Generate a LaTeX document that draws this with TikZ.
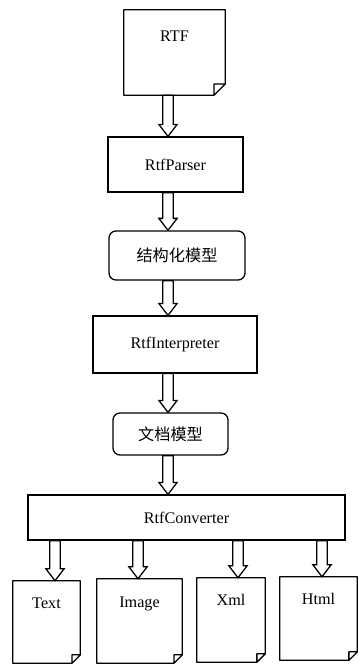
\documentclass[tikz,border=0pt]{standalone}
\usepackage{fontspec}
\setmainfont{Liberation Serif}
\newfontfamily\cjk{Noto Sans CJK SC}
\usetikzlibrary{calc}

\tikzset{
    box/.style={draw, line width=0.9pt, inner sep=0pt, font=\fontsize{11.5}{13}\selectfont},
    model/.style={box, rounded corners=5pt, font=\cjk\fontsize{11.5}{13}\selectfont},
    doc/.style={inner sep=0pt, font=\fontsize{11.5}{13}\selectfont},
    hollow/.style={line width=0.9pt, to path={let \p1=(\tikztostart), \p2=(\tikztotarget) in
        (\x1-3.8pt,\y1) -- (\x1-3.8pt,\y2+8.5pt) -- (\x1-6.5pt,\y2+8.5pt) -- (\x1,\y2)
        -- (\x1+6.5pt,\y2+8.5pt) -- (\x1+3.8pt,\y2+8.5pt) -- (\x1+3.8pt,\y1) -- cycle}}
}

\begin{document}
\begin{tikzpicture}[x=0.025cm, y=-0.025cm]
        \useasboundingbox (0,0) rectangle (358,664);
    % column of the arrows
        \coordinate (col) at (168,0);
    % boxes
        \node[doc, minimum width=71.8pt, text height=22.7pt, text depth=37.8pt] (rtf) at (174.5,52.5) {RTF};
        \node[box, minimum width=96pt, minimum height=39.1pt] (parser) at (175.5,164.5) {RtfParser};
        \node[model, minimum width=96.7pt, minimum height=34.9pt] (struct) at (177,255.5) {结构化模型};
        \node[box, minimum width=116.7pt, minimum height=40.5pt] (interp) at (175,344.5) {RtfInterpreter};
        \node[model, minimum width=81.8pt, minimum height=29.9pt] (docmodel) at (170.5,434) {文档模型};
        \node[box, minimum width=225.5pt, minimum height=32pt] (conv) at (186.5,517.5) {RtfConverter};
    % output documents
        \node[doc, minimum width=47.7pt, text height=19.3pt, text depth=39pt] (text) at (46.5,622) {Text};
        \node[doc, minimum width=60.5pt, text height=20.2pt, text depth=39.5pt] (image) at (139.5,621) {Image};
        \node[doc, minimum width=48.4pt, text height=19.4pt, text depth=40.3pt] (xml) at (231,620) {Xml};
        \node[doc, minimum width=54.8pt, text height=19.4pt, text depth=39.6pt] (html) at (318.5,618.5) {Html};
    % dog-eared outlines
        \foreach \d/\f in {rtf/8pt, text/6pt, image/6pt, xml/6pt, html/6pt}
            \draw[line width=0.9pt, line join=round] (\d.north west) -- (\d.north east) -- ([yshift=\f]\d.south east)
                -- ([xshift=-\f]\d.south east) -- (\d.south west) -- cycle
                ([xshift=-\f]\d.south east) -- ([xshift=-\f,yshift=\f]\d.south east) -- ([yshift=\f]\d.south east);
    % arrows
        \foreach \a/\b in {rtf/parser, parser/struct, struct/interp, interp/docmodel, docmodel/conv}
            \draw[hollow] (\a.south -| col) to (\b.north -| col);
        \foreach \d/\o in {text/8.5, image/-1.5, xml/7, html/3.5}
            \draw[hollow] ($(\d.north |- conv.south)+(\o,0)$) to ($(\d.north)+(\o,0)$);
\end{tikzpicture}
\end{document}
